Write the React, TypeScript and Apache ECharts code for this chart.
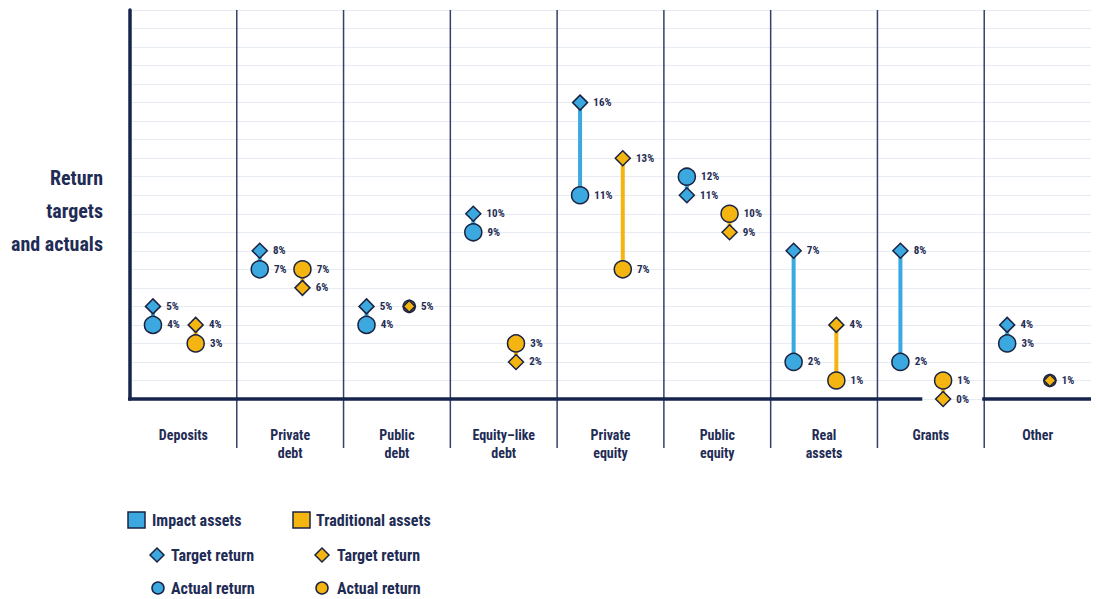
import React, { useEffect, useRef } from 'react';
import * as echarts from 'echarts';

const categories = ['Deposits', 'Private\ndebt', 'Public\ndebt', 'Equity\u2013like\ndebt', 'Private\nequity', 'Public\nequity', 'Real\nassets', 'Grants', 'Other'];
const impactTarget = [5, 8, 5, 10, 16, 11, 8, 8, 4];
const impactTargetLabels = ['5%', '8%', '5%', '10%', '16%', '11%', '7%', '8%', '4%'];
const impactActual = [4, 7, 4, 9, 11, 12, 2, 2, 3];
const tradTarget = [4, 6, 5, 2, 13, 9, 4, 0, 1];
const tradActual = [3, 7, 5, 3, 7, 10, 1, 1, 1];
const separators = [1, 2, 3, 4, 5, 6, 7, 8];

const BLUE = '#3ba8df';
const ORANGE = '#f5b511';
const NAVY = '#15254b';
const INK = '#1f2c55';
const EDGE = '#1a2342';
const FONT = "'Roboto Condensed', 'Open Sans Condensed', sans-serif";
const IMPACT_OFF = 0.215;
const TRAD_OFF = 0.615;

const labelStyle = {
  show: true,
  position: 'right',
  distance: 5,
  fontSize: 11,
  fontWeight: 'bold',
  color: INK,
  fontFamily: FONT,
};

function connector(color: string, off: number, t: number[], a: number[]) {
  return {
    type: 'custom',
    xAxisIndex: 0,
    yAxisIndex: 0,
    clip: false,
    z: 2,
    silent: true,
    data: t.map((v, i) => [i, v, a[i]]),
    encode: { x: 0, y: [1, 2] },
    renderItem: (params: any, api: any) => {
      const i = api.value(0);
      const p1 = api.coord([i + off, api.value(1)]);
      const p2 = api.coord([i + off, api.value(2)]);
      return {
        type: 'line',
        shape: { x1: p1[0], y1: p1[1], x2: p2[0], y2: p2[1] },
        style: { stroke: color, lineWidth: 4 },
      };
    },
  };
}

export default function App() {
  const ref = useRef<HTMLDivElement>(null);
  useEffect(() => {
    if (!ref.current) return;
    const chart = echarts.init(ref.current, undefined, { renderer: 'svg' });

    const legendText = (x: number, y: number, text: string) => ({
      type: 'text',
      x,
      y,
      style: { text, fill: INK, font: `bold 16px ${FONT}`, textVerticalAlign: 'middle' },
    });
    const diamond = (cx: number, cy: number, r: number, fill: string) => ({
      type: 'polygon',
      shape: { points: [[cx, cy - r], [cx + r, cy], [cx, cy + r], [cx - r, cy]] },
      style: { fill, stroke: EDGE, lineWidth: 1.5 },
    });

    const option: any = {
      animation: false,
      backgroundColor: '#ffffff',
      grid: { left: 130, right: 5, top: 10, bottom: 200, containLabel: false },
      xAxis: [
        {
          type: 'value',
          min: 0,
          max: 9,
          interval: 1,
          show: true,
          axisLine: { show: false },
          axisTick: { show: false },
          axisLabel: { show: false },
          splitLine: { show: false },
        },
        {
          type: 'category',
          data: categories,
          boundaryGap: true,
          position: 'bottom',
          axisLine: { show: false },
          axisTick: { show: false },
          splitLine: { show: false },
          axisLabel: {
            margin: 27,
            fontSize: 14,
            lineHeight: 18,
            color: INK,
            fontFamily: FONT,
            fontWeight: 'bold',
            interval: 0,
          },
        },
      ],
      yAxis: {
        type: 'value',
        min: 0,
        max: 21,
        interval: 1,
        axisLine: { show: true, onZero: false, lineStyle: { color: NAVY, width: 3.5 } },
        axisTick: { show: false },
        axisLabel: { show: false },
        splitLine: { show: true, lineStyle: { color: '#e7ecf3', width: 1 } },
      },
      graphic: [
        {
          type: 'text',
          x: 103,
          y: 161,
          style: {
            text: 'Return\ntargets\nand actuals',
            fill: INK,
            font: `bold 20px ${FONT}`,
            lineHeight: 33,
            textAlign: 'right',
            textVerticalAlign: 'top',
          },
        },
        { type: 'rect', shape: { x: 128, y: 512, width: 17, height: 16 }, style: { fill: BLUE, stroke: EDGE, lineWidth: 1.5 } },
        legendText(152, 520, 'Impact assets'),
        { type: 'rect', shape: { x: 293, y: 512, width: 17, height: 16 }, style: { fill: ORANGE, stroke: EDGE, lineWidth: 1.5 } },
        legendText(316, 520, 'Traditional assets'),
        diamond(157, 555, 7, BLUE),
        legendText(171, 555, 'Target return'),
        diamond(322, 555, 7, ORANGE),
        legendText(337, 555, 'Target return'),
        { type: 'circle', shape: { cx: 158, cy: 588, r: 6 }, style: { fill: BLUE, stroke: EDGE, lineWidth: 1.5 } },
        legendText(171, 588, 'Actual return'),
        { type: 'circle', shape: { cx: 322, cy: 588, r: 6 }, style: { fill: ORANGE, stroke: EDGE, lineWidth: 1.5 } },
        legendText(337, 588, 'Actual return'),
      ],
      series: [
        {
          name: 'separators',
          type: 'custom',
          xAxisIndex: 0,
          yAxisIndex: 0,
          clip: false,
          silent: true,
          z: 1,
          data: separators.map((s) => [s, 0]),
          encode: { x: 0, y: 1 },
          renderItem: (params: any, api: any) => {
            const top = api.coord([api.value(0), 21]);
            const bot = api.coord([api.value(0), 0]);
            return {
              type: 'line',
              shape: { x1: top[0], y1: top[1], x2: bot[0], y2: bot[1] + 49 },
              style: { stroke: '#34416a', lineWidth: 1.5 },
            };
          },
        },
        {
          name: 'baseline',
          type: 'custom',
          xAxisIndex: 0,
          yAxisIndex: 0,
          clip: false,
          silent: true,
          z: 1,
          data: [[0, 7.42], [8, 9]],
          encode: { x: [0, 1] },
          renderItem: (params: any, api: any) => {
            const a = api.coord([api.value(0), 0]);
            const b = api.coord([api.value(1), 0]);
            return {
              type: 'line',
              shape: { x1: a[0] - 2, y1: a[1], x2: b[0], y2: b[1] },
              style: { stroke: NAVY, lineWidth: 3.5 },
            };
          },
        },
        connector(BLUE, IMPACT_OFF, impactTarget, impactActual),
        connector(ORANGE, TRAD_OFF, tradTarget, tradActual),
        {
          name: 'Impact actual',
          type: 'scatter',
          xAxisIndex: 0,
          symbol: 'circle',
          symbolSize: 17,
          z: 3,
          itemStyle: { color: BLUE, borderColor: EDGE, borderWidth: 1.5, opacity: 1 },
          label: { ...labelStyle, formatter: (p: any) => impactActual[p.dataIndex] + '%' },
          data: impactActual.map((v, i) => [i + IMPACT_OFF, v]),
        },
        {
          name: 'Impact target',
          type: 'scatter',
          xAxisIndex: 0,
          symbol: 'diamond',
          symbolSize: 15,
          z: 4,
          itemStyle: { color: BLUE, borderColor: EDGE, borderWidth: 1.5, opacity: 1 },
          label: { ...labelStyle, formatter: (p: any) => impactTargetLabels[p.dataIndex] },
          data: impactTarget.map((v, i) => [i + IMPACT_OFF, v]),
        },
        {
          name: 'Traditional actual',
          type: 'scatter',
          xAxisIndex: 0,
          symbol: 'circle',
          z: 3,
          itemStyle: { color: ORANGE, borderColor: EDGE, borderWidth: 1.5, opacity: 1 },
          label: { ...labelStyle, formatter: (p: any) => tradActual[p.dataIndex] + '%' },
          data: tradActual.map((v, i) =>
            v === tradTarget[i]
              ? { value: [i + TRAD_OFF, v], symbolSize: 12, label: { show: false } }
              : { value: [i + TRAD_OFF, v], symbolSize: 17 }
          ),
        },
        {
          name: 'Traditional target',
          type: 'scatter',
          xAxisIndex: 0,
          symbol: 'diamond',
          z: 4,
          itemStyle: { color: ORANGE, borderColor: EDGE, borderWidth: 1.5, opacity: 1 },
          label: { ...labelStyle, formatter: (p: any) => tradTarget[p.dataIndex] + '%' },
          data: tradTarget.map((v, i) => ({
            value: [i + TRAD_OFF, v],
            symbolSize: v === tradActual[i] ? 12 : 15,
          })),
        },
      ],
    };
    chart.setOption(option);
    return () => chart.dispose();
  }, []);

  return (
    <div
      ref={ref}
      style={{ position: 'absolute', left: 0, top: 0, width: 1096, height: 599, background: '#fff' }}
    />
  );
}
